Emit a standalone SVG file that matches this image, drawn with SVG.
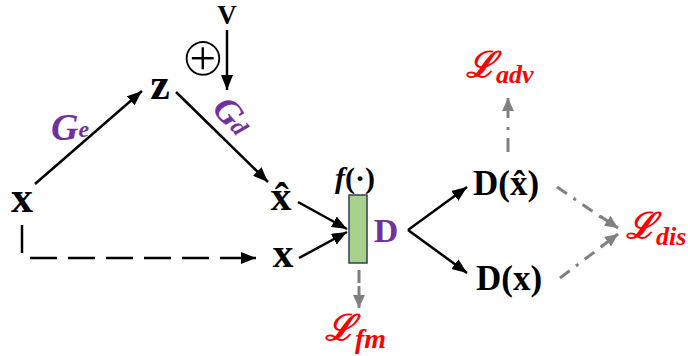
<svg xmlns="http://www.w3.org/2000/svg" width="688" height="356" viewBox="0 0 688 356">
<style>
.v{font-family:"Liberation Serif",serif;font-weight:bold;fill:#000}
.p{fill:#7030A0}
.loss{font-family:"DejaVu Serif","Liberation Serif",serif;font-style:italic;font-weight:bold;fill:#FF0000}
.sub{font-family:"Liberation Serif",serif;font-style:italic;fill:#FF0000}
.ln{stroke:#000;stroke-width:2.5;fill:none}
.gr{stroke:#808080;stroke-width:3;fill:none}
</style>
<defs>
<marker id="ab" markerUnits="userSpaceOnUse" markerWidth="16" markerHeight="14" refX="15" refY="6" orient="auto">
<path d="M0,0 L15,6 L0,12 Z" fill="#000"/>
</marker>
<marker id="ag" markerUnits="userSpaceOnUse" markerWidth="14" markerHeight="14" refX="13" refY="6" orient="auto">
<path d="M0,0 L13,6 L0,12 Z" fill="#808080"/>
</marker>
</defs>
<g id="connectors">
<line class="ln" x1="35" y1="184" x2="142" y2="91" marker-end="url(#ab)"/>
<line class="ln" x1="176" y1="92" x2="268" y2="182" marker-end="url(#ab)"/>
<line class="ln" x1="227" y1="30" x2="227" y2="90" marker-end="url(#ab)"/>
<path class="ln" d="M22,225 V253" stroke-width="3"/>
<path class="ln" d="M30,258 H240" stroke-width="3" stroke-dasharray="27 11"/>
<line class="ln" x1="240" y1="258" x2="256" y2="258" stroke-width="3" marker-end="url(#ab)"/>
<line class="ln" x1="298" y1="202" x2="347" y2="229" stroke-width="3" marker-end="url(#ab)"/>
<line class="ln" x1="299" y1="258" x2="347" y2="232" stroke-width="3" marker-end="url(#ab)"/>
<line class="ln" x1="408" y1="230" x2="467" y2="187" stroke-width="2" marker-end="url(#ab)"/>
<line class="ln" x1="408" y1="230" x2="467" y2="273" stroke-width="2" marker-end="url(#ab)"/>
<path class="gr" d="M508,152 V126" stroke-dasharray="14 8 3 8"/>
<line class="gr" x1="508" y1="118" x2="508" y2="98" marker-end="url(#ag)"/>
<path class="gr" d="M359,270 V283"/>
<line class="gr" x1="359" y1="286" x2="359" y2="308" stroke-width="0" marker-end="url(#ag)"/>
<path class="gr" d="M557,187 L605,220" stroke-dasharray="12 8 3 8"/>
<line class="gr" x1="600" y1="216" x2="618" y2="228" marker-end="url(#ag)"/>
<path class="gr" d="M560,278 L605,244" stroke-dasharray="12 8 3 8"/>
<line class="gr" x1="602" y1="246" x2="618" y2="234" marker-end="url(#ag)"/>
</g>
<g id="node-v"><text class="v" x="227" y="24" font-size="27" text-anchor="middle">V</text></g>
<g id="node-oplus"><text x="203" y="76" font-family="DejaVu Sans,sans-serif" font-size="56" text-anchor="middle" fill="#000" stroke="#fff" stroke-width="2.2">⊕</text></g>
<g id="node-z"><text class="v" x="160" y="99" font-size="44" text-anchor="middle">z</text></g>
<g id="node-x"><text class="v" x="22" y="212" font-size="44" text-anchor="middle">x</text></g>
<g id="node-xhat"><text class="v" x="281" y="210" font-size="42" text-anchor="middle">x̂</text></g>
<g id="node-x2"><text class="v" x="283" y="267" font-size="42" text-anchor="middle">x</text></g>
<g id="label-ge"><text x="51" y="140" font-family="Liberation Serif,serif" font-style="italic" font-weight="bold" font-size="38" class="p">G<tspan font-size="24" dy="-3">e</tspan></text></g>
<g id="label-gd"><text transform="translate(211,109) rotate(50)" font-family="Liberation Serif,serif" font-style="italic" font-weight="bold" font-size="36" class="p">G<tspan font-size="24" dy="-2">d</tspan></text></g>
<g id="node-D">
<text x="355" y="188" font-family="Liberation Serif,serif" font-weight="bold" font-size="30" text-anchor="middle" fill="#000"><tspan font-style="italic">f</tspan>(·)</text>
<rect x="349" y="195" width="18" height="68" fill="#A9D18E" stroke="#2F4050" stroke-width="1.5"/>
<text class="v p" x="386" y="242" font-size="34" text-anchor="middle">D</text>
</g>
<g id="node-dxhat"><text class="v" x="473" y="195" font-size="35">D(x̂)</text></g>
<g id="node-dx"><text class="v" x="476" y="290" font-size="35">D(x)</text></g>
<g id="loss-adv"><text x="466" y="77" font-size="36" class="loss">ℒ<tspan class="sub" font-size="26" dy="6">adv</tspan></text></g>
<g id="loss-dis"><text x="626" y="238" font-size="36" class="loss">ℒ<tspan class="sub" font-size="26" dy="7">dis</tspan></text></g>
<g id="loss-fm"><text x="325" y="340" font-size="36" class="loss">ℒ<tspan class="sub" font-size="28" dy="8">fm</tspan></text></g>
</svg>
